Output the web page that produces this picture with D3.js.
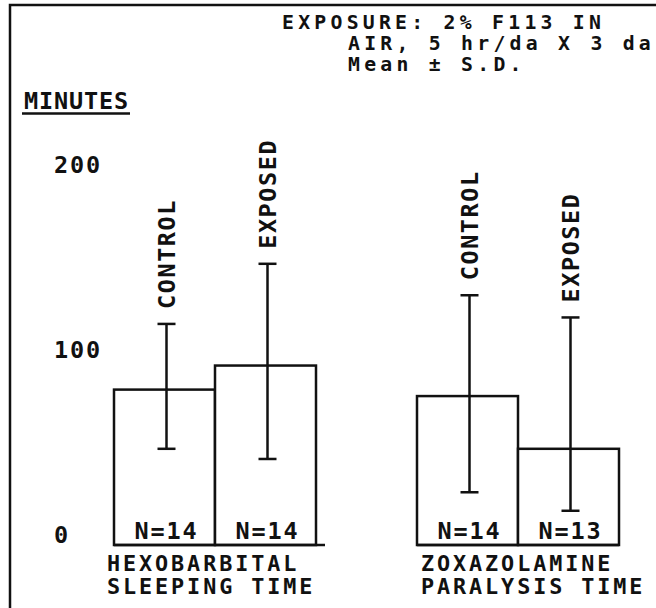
<!DOCTYPE html>
<html>
<head>
<meta charset="utf-8">
<script src="https://cdnjs.cloudflare.com/ajax/libs/d3/7.8.5/d3.min.js"></script>
<style>
body { margin: 0; background: #fff; }
svg text { font-family: "DejaVu Sans Mono", monospace; font-weight: bold; font-size: 23.5px; letter-spacing: 1.85px; fill: #111; }
</style>
</head>
<body>
<div id="chart"></div>
<script>
// ------------------------- data
var titleLines = ["EXPOSURE: 2% F113 IN", "AIR, 5 hr/da X 3 da", "Mean \u00b1 S.D."];
var categories = ["HEXOBARBITAL", "ZOXAZOLAMINE"];
var categoryLines = [["HEXOBARBITAL", "SLEEPING TIME"], ["ZOXAZOLAMINE", "PARALYSIS TIME"]];
var groups = ["CONTROL", "EXPOSED"];
var controlMean = [84, 80.5];
var exposedMean = [97, 52];
var controlHigh = [119.5, 135];
var controlLow = [52, 28.5];
var exposedHigh = [152, 123];
var exposedLow = [46.5, 18.5];
var controlN = [14, 14];
var exposedN = [14, 13];
var yTicks = [0, 100, 200];
var yLabel = "MINUTES";

var rows = [];
categories.forEach(function(c, i) {
    rows.push({cat: c, grp: "CONTROL", mean: controlMean[i], hi: controlHigh[i], lo: controlLow[i], n: controlN[i]});
    rows.push({cat: c, grp: "EXPOSED", mean: exposedMean[i], hi: exposedHigh[i], lo: exposedLow[i], n: exposedN[i]});
});

var width = 656, height = 608;
var svg = d3.select("#chart").append("svg")
    .attr("width", width)
    .attr("height", height);

var y = d3.scaleLinear().domain([0, 200]).range([545, 175]);
var x0 = d3.scaleBand().domain(categories).range([114, 619]).paddingInner(1/3).paddingOuter(0);
var x1 = d3.scaleBand().domain(groups).range([0, x0.bandwidth()]);

// frame (left + top only)
svg.append("path")
    .attr("d", "M10,608 L10,5 L656,5")
    .attr("fill", "none")
    .attr("stroke", "#111")
    .attr("stroke-width", 2.5);

// title block - one text, three lines
var title = svg.append("text").attr("y", 29)
    .style("font-size", "19.8px")
    .style("letter-spacing", "4.25px");
title.selectAll("tspan")
    .data(titleLines)
    .enter()
    .append("tspan")
    .attr("x", function(d, i) { return i == 0 ? 282 : 348; })
    .attr("dy", function(d, i) { return i == 0 ? 0 : 21; })
    .text(function(d) { return d; });

// y label, underlined
svg.append("text").attr("x", 24).attr("y", 109)
    .style("letter-spacing", "0.85px")
    .text(yLabel);
svg.append("line")
    .attr("x1", 22).attr("x2", 130)
    .attr("y1", 113.5).attr("y2", 113.5)
    .attr("stroke", "#111").attr("stroke-width", 2.5);

// y ticks
var axis = svg.append("g")
    .attr("transform", "translate(54,0)")
    .call(d3.axisRight(y).tickValues(yTicks).tickSize(0).tickPadding(0));
axis.select(".domain").remove();
axis.selectAll("text").attr("dy", "-0.1em");

// bars
var bars = svg.selectAll(".bar")
    .data(rows)
    .enter()
    .append("g")
    .attr("class", "bar")
    .attr("transform", function(d) { return "translate(" + (x0(d.cat) + x1(d.grp)) + ",0)"; });

bars.append("rect")
    .attr("x", 0)
    .attr("y", function(d) { return y(d.mean); })
    .attr("width", x1.bandwidth())
    .attr("height", function(d) { return y(0) - y(d.mean); })
    .attr("fill", "#fff")
    .attr("stroke", "#111")
    .attr("stroke-width", 2.5);

// baseline under each group
svg.selectAll(".base")
    .data(categories)
    .enter()
    .append("line")
    .attr("x1", function(d) { return x0(d); })
    .attr("x2", function(d, i) { return x0(d) + x0.bandwidth() + (i == 0 ? 9 : 0); })
    .attr("y1", y(0)).attr("y2", y(0))
    .attr("stroke", "#111").attr("stroke-width", 2.5);

// error bars
var ex = x1.bandwidth() / 2 + 2;
bars.append("line")
    .attr("x1", ex).attr("x2", ex)
    .attr("y1", function(d) { return y(d.hi); })
    .attr("y2", function(d) { return y(d.lo); })
    .attr("stroke", "#111").attr("stroke-width", 2.5);
bars.append("line")
    .attr("x1", ex - 9).attr("x2", ex + 9)
    .attr("y1", function(d) { return y(d.hi); })
    .attr("y2", function(d) { return y(d.hi); })
    .attr("stroke", "#111").attr("stroke-width", 2.5);
bars.append("line")
    .attr("x1", ex - 9).attr("x2", ex + 9)
    .attr("y1", function(d) { return y(d.lo); })
    .attr("y2", function(d) { return y(d.lo); })
    .attr("stroke", "#111").attr("stroke-width", 2.5);

// group names, vertical above the error bar
bars.append("text")
    .attr("transform", function(d) { return "translate(" + (ex + 8) + "," + (y(d.hi) - 15) + ") rotate(-90)"; })
    .style("letter-spacing", "1.55px")
    .text(function(d) { return d.grp; });

// N labels
bars.append("text")
    .attr("x", x1.bandwidth() / 2 + 2)
    .attr("y", y(0) - 6)
    .attr("text-anchor", "middle")
    .text(function(d) { return "N=" + d.n; });

// category labels
var catText = svg.selectAll(".cat")
    .data(categories)
    .enter()
    .append("text")
    .attr("class", "cat")
    .attr("y", 571)
    .style("font-size", "21.8px")
    .style("letter-spacing", "2.9px");
catText.selectAll("tspan")
    .data(function(d, i) { return categoryLines[i].map(function(s) { return {s: s, c: d}; }); })
    .enter()
    .append("tspan")
    .attr("x", function(d) { return x0(d.c) + (d.c == categories[0] ? -7 : 4); })
    .attr("dy", function(d, i) { return i == 0 ? 0 : 23; })
    .text(function(d) { return d.s; });
</script>
</body>
</html>
